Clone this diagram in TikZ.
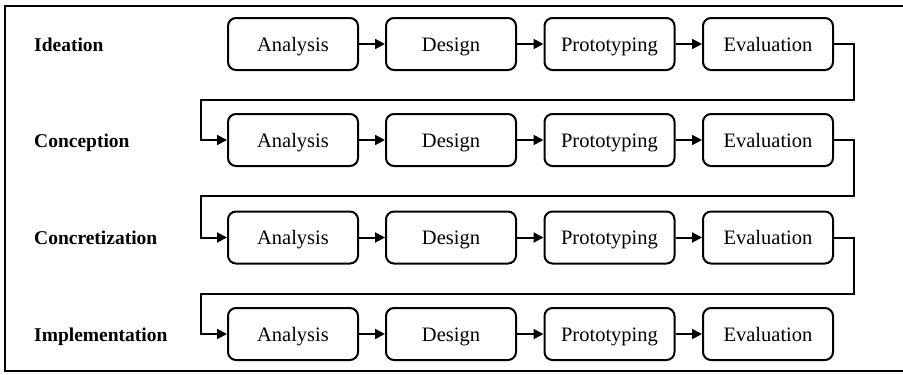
\documentclass[tikz,border=0pt]{standalone}
\usepackage{fontspec}
\setmainfont{Liberation Serif}
\usetikzlibrary{arrows.meta}
\begin{document}
\begin{tikzpicture}[x=1pt,y=-1pt,
  phase/.style={draw, line width=2pt, rounded corners=8pt, minimum width=130pt,
    minimum height=52pt, inner sep=0pt, text height=14pt, text depth=0pt,
    font=\fontsize{20.5}{24}\selectfont},
  stagelabel/.style={anchor=west, inner sep=0pt, text height=14pt, text depth=0pt,
    font=\fontsize{19.5}{23}\selectfont\bfseries},
  flow/.style={line width=2pt, -{Triangle[length=10pt,width=10pt]}},
  loop/.style={line width=2pt, -{Triangle[length=10pt,width=10pt]}}]
  \useasboundingbox (0,0) rectangle (903,375);
  % outer frame (open to the right)
  \draw[line width=2.4pt] (906,6) -- (5,6) -- (5,371) -- (906,371);

  % stages and their rows
  \foreach \r/\name/\yy in {1/Ideation/44,2/Conception/140,3/Concretization/237.5,4/Implementation/334}{
    \node[stagelabel] (L\r) at (34,\yy) {\name};
    \node[phase] (A\r) at (293,\yy) {Analysis};
    \node[phase] (D\r) at (451,\yy) {Design};
    \node[phase] (P\r) at (609.5,\yy) {Prototyping};
    \node[phase] (E\r) at (768,\yy) {Evaluation};
    \draw[flow] (A\r) -- (D\r);
    \draw[flow] (D\r) -- (P\r);
    \draw[flow] (P\r) -- (E\r);
  }

  % connectors from one row's evaluation to the next row's analysis
  \foreach \r/\n/\ym in {1/2/100,2/3/196,3/4/294}{
    \draw[loop] (E\r.east) -- ++(20,0) |- (201,\ym) |- (A\n.west);
  }
\end{tikzpicture}
\end{document}
